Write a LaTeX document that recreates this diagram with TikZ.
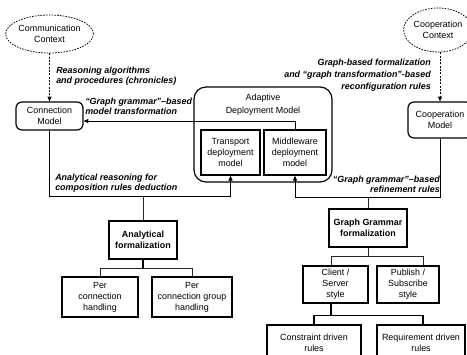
\documentclass[tikz,border=0pt]{standalone}
\usepackage{fontspec}
\setmainfont{Liberation Sans}
\usetikzlibrary{arrows.meta,shapes.geometric}

\tikzset{
	box/.style={draw, line width=1.1pt, align=center, inner sep=0pt, font=\fontsize{6.7}{8.2}\selectfont},
	rbox/.style={box, line width=0.9pt, rounded corners=4.5pt},
	ctx/.style={draw, ellipse, dash pattern=on 1.2pt off 0.9pt, line width=0.55pt, align=center, inner sep=0pt, font=\fontsize{6.7}{8.2}\selectfont},
	lbl/.style={inner sep=0pt, font=\fontsize{6.7}{7.6}\selectfont\bfseries\itshape},
	conn/.style={line width=0.65pt, -{Triangle[length=3.6pt,width=3pt]}},
	tree/.style={line width=0.7pt, black!85},
}

\begin{document}
\begin{tikzpicture}[x=0.75pt,y=0.75pt,yscale=-1,xscale=1]
	\useasboundingbox (0,0) rectangle (467,354);

	% Text Node
	\node [ctx, minimum width=56.25pt, minimum height=28.5pt] (commctx) at (49.5,34) {Communication\\Context};
	% Text Node
	\node [ctx, minimum width=45pt, minimum height=33pt] (coopctx) at (438,30) {Cooperation\\Context};
	% Text Node
	\node [rbox, minimum width=50.25pt, minimum height=21pt] (connmodel) at (49.5,116) {Connection\\Model};
	% Text Node
	\node [rbox, minimum width=48pt, minimum height=27pt] (coopmodel) at (440,120) {Cooperation\\Model};
	% Text Node
	\node [rbox, rounded corners=9pt, minimum width=103.5pt, minimum height=71.25pt] (adm) at (263,134.5) {};
	\node [inner sep=0pt, align=center, font=\fontsize{6.7}{9.4}\selectfont] (admtitle) at (263,104.5) {Adaptive\\Deployment Model};
	% Text Node
	\node [box, minimum width=44.25pt, minimum height=33.75pt] (transp) at (230.5,152.5) {Transport\\deployment\\model};
	% Text Node
	\node [box, minimum width=46.5pt, minimum height=33.75pt] (mw) at (295,152.5) {Middleware\\deployment\\model};
	% Text Node
	\node [box, minimum width=51pt, minimum height=28.5pt, font=\fontsize{6.7}{8.2}\selectfont\bfseries] (anaform) at (143,240) {Analytical\\formalization};
	% Text Node
	\node [box, minimum width=57pt, minimum height=30pt] (pch) at (100,297) {Per\\connection\\handling};
	% Text Node
	\node [box, minimum width=60pt, minimum height=30pt] (pcgh) at (192,297) {Per\\connection group\\handling};
	% Text Node
	\node [box, minimum width=58.5pt, minimum height=28.5pt, font=\fontsize{6.7}{8.2}\selectfont\bfseries] (ggform) at (368,228) {Graph Grammar\\formalization};
	% Text Node
	\node [box, minimum width=48.75pt, minimum height=27.75pt] (cs) at (335.5,284.5) {Client /\\Server\\style};
	% Text Node
	\node [box, minimum width=46.5pt, minimum height=27.75pt] (ps) at (408,284.5) {Publish /\\Subscribe\\style};
	% Text Node
	\node [box, minimum width=70.5pt, minimum height=27pt] (cdr) at (314,343) {Constraint driven\\rules};
	% Text Node
	\node [box, minimum width=66pt, minimum height=27pt] (rdr) at (421,343) {Requirement driven\\rules};

	% Text Node
	\node [lbl, anchor=west, align=left] (lblreason) at (56,76) {Reasoning algorithms\\and procedures (chronicles)};
	% Text Node
	\node [lbl, anchor=east, align=right, font=\fontsize{6.7}{9}\selectfont\bfseries\itshape] (lblgraph) at (431,75.5) {Graph-based formalization\\and “graph transformation”-based\\reconfiguration rules};
	% Text Node
	\node [lbl, anchor=west, align=left] (lblmodel) at (85,106.5) {“Graph grammar”–based\\model transformation};
	% Text Node
	\node [lbl, anchor=west, align=left] (lblana) at (55,183) {Analytical reasoning for\\composition rules deduction};
	% Text Node
	\node [lbl, anchor=east, align=right] (lblrefine) at (440,184.5) {“Graph grammar”–based\\refinement rules};

	% Connection
	\draw [conn, dash pattern=on 1.5pt off 1pt] (commctx.south) -- (connmodel.north);
	% Connection
	\draw [conn, dash pattern=on 1.5pt off 1pt] (coopctx.south -| coopmodel.north) -- (coopmodel.north);
	% Connection
	\draw [conn] (mw.north) -- (mw.north |- 0,121) -- (connmodel.east |- 0,121);
	% Connection
	\draw [conn] (connmodel.south) |- (transp.south |- 0,196) -- (transp.south);
	% Connection
	\draw [conn] (coopmodel.south) |- (mw.south |- 0,197) -- (mw.south);
	% Connection
	\draw [tree] (anaform.north) -- (anaform.north |- 0,196);
	\draw [tree] (ggform.north) -- (ggform.north |- 0,197);
	% Connection
	\draw [line width=1.3pt] (anaform.south) -- ++(0,9) coordinate (afj);
	\draw [tree] (pch.north) |- (afj) -| (pcgh.north);
	% Connection
	\draw [tree] (ggform.south) -- ++(0,9) coordinate (ggj);
	\draw [tree] ([xshift=-3.4pt]cs.north) |- (ggj) -| ([xshift=11.25pt]ps.north);
	% Connection
	\draw [line width=1pt] ([xshift=-3.4pt]cs.south) -- ++(0,12) coordinate (csj);
	\draw [line width=0.9pt] (cdr.north) |- (csj) -| ([xshift=1.5pt]rdr.north);

\end{tikzpicture}
\end{document}
